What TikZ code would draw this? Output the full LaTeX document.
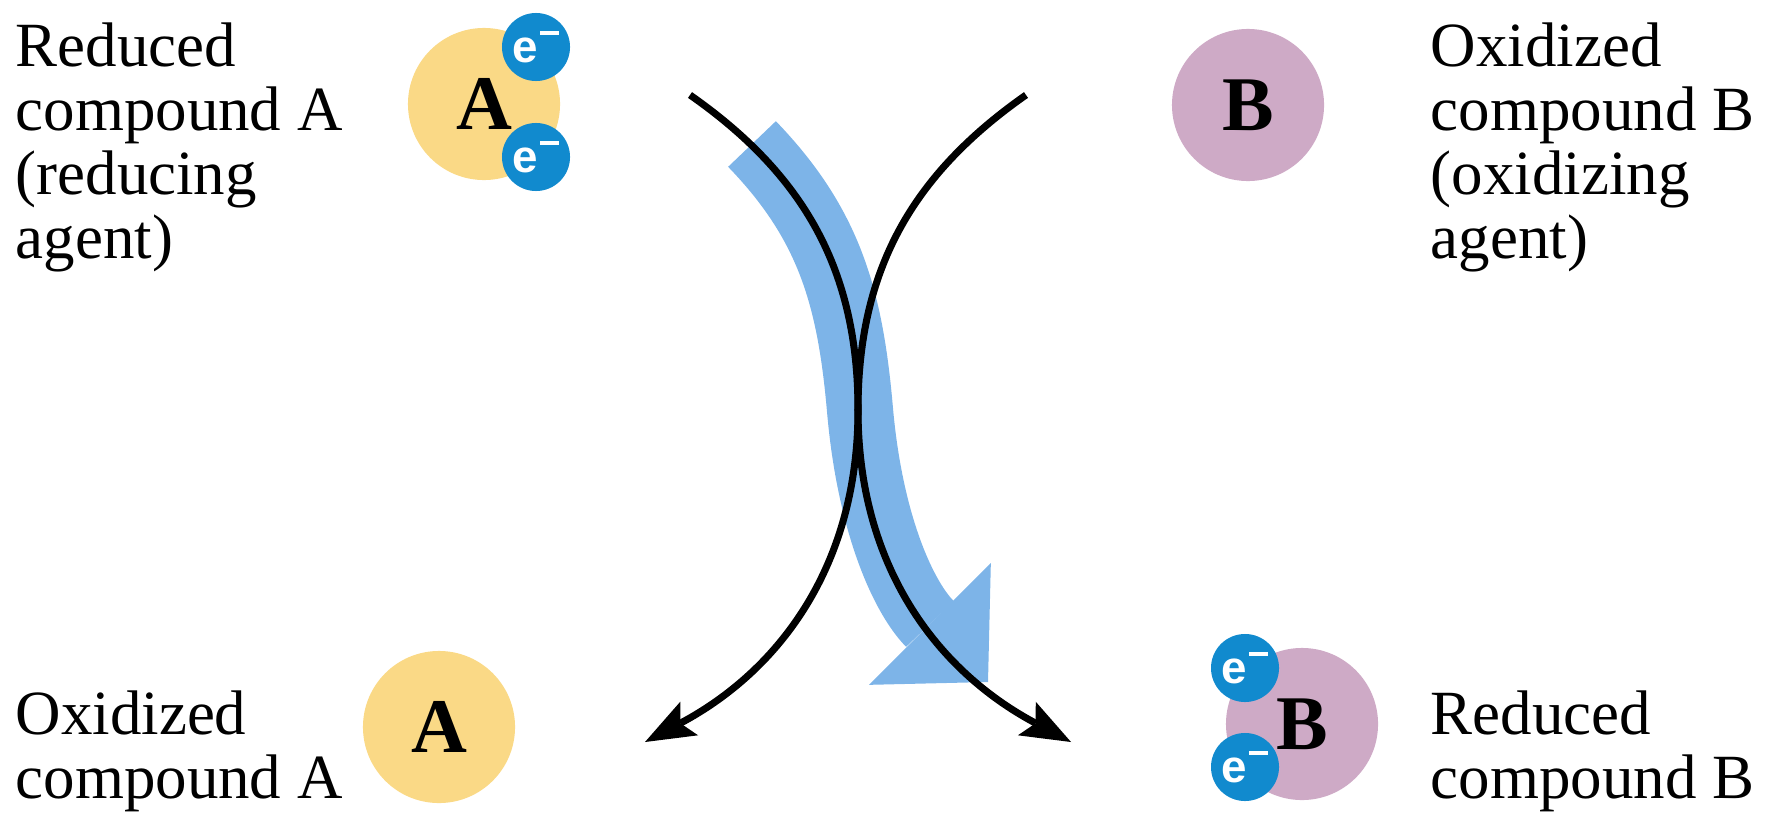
\documentclass[tikz,border=0pt]{standalone}
\usepackage{fontspec}
\setmainfont{Liberation Serif}
\newfontfamily\elfont{Liberation Sans}
\usepackage{xcolor}
\usetikzlibrary{arrows.meta}
\definecolor{cmpA}{RGB}{250,217,134}
\definecolor{cmpB}{RGB}{206,170,198}
\definecolor{elecblue}{RGB}{17,138,206}
\definecolor{flowblue}{RGB}{125,180,232}
\newcommand{\eminus}{e\kern0.04em\raisebox{0.6em}{\rule{0.42em}{0.09em}}}

\begin{document}
\begin{tikzpicture}[x=0.01cm,y=0.01cm,
  txt/.style={align=left,inner sep=0,anchor=north west,font=\fontsize{17.9}{18.2}\selectfont},
  cmp/.style={circle,inner sep=0,minimum size=1.52cm,font=\fontsize{22}{24}\selectfont\bfseries},
  elec/.style={circle,inner sep=0,minimum size=0.68cm,fill=elecblue,text=white,font=\elfont\bfseries\fontsize{13}{14}\selectfont},
  react/.style={line width=2pt,-{Stealth[length=0.5cm,width=0.38cm,inset=0.1cm,line width=0pt]}},
  flow/.style={line width=0.66cm,flowblue,-{Triangle[length=0.82cm,width=1.72cm,line width=0pt]}}]
\useasboundingbox (0,0) rectangle (1767,814);

\node[txt] (redA) at (15,792) {Reduced\\compound A\\(reducing\\agent)};
\node[txt] (oxB) at (1430,792) {Oxidized\\compound B\\(oxidizing\\agent)};
\node[txt] (oxA) at (15,124) {Oxidized\\compound A};
\node[txt] (redB) at (1430,124) {Reduced\\compound B};

\coordinate (btail) at (752,670);
\coordinate (bmid) at (860,404);
\coordinate (btip) at (988,132);
\draw[flow] (btail) to[out=-46,in=95] (bmid) to[out=-85,in=135] (btip);

\coordinate (ltop) at (690,719);
\coordinate (rtop) at (1026,719);
\coordinate (cross) at (858,404);
\coordinate (lend) at (645,72);
\coordinate (rend) at (1071,72);
\draw[react] (ltop) to[out=-35,in=90] (cross) to[out=-90,in=28] (lend);
\draw[react] (rtop) to[out=-145,in=90] (cross) to[out=-90,in=152] (rend);

\node[cmp,fill=cmpA] (topA) at (484,710) {A};
\node[elec] (eA1) at (536,767) {\eminus};
\node[elec] (eA2) at (536,657) {\eminus};
\node[cmp,fill=cmpB] (topB) at (1248,709) {B};
\node[cmp,fill=cmpA] (botA) at (439,87) {A};
\node[cmp,fill=cmpB] (botB) at (1302,90) {B};
\node[elec] (eB1) at (1245,146) {\eminus};
\node[elec] (eB2) at (1245,47) {\eminus};
\end{tikzpicture}
\end{document}
